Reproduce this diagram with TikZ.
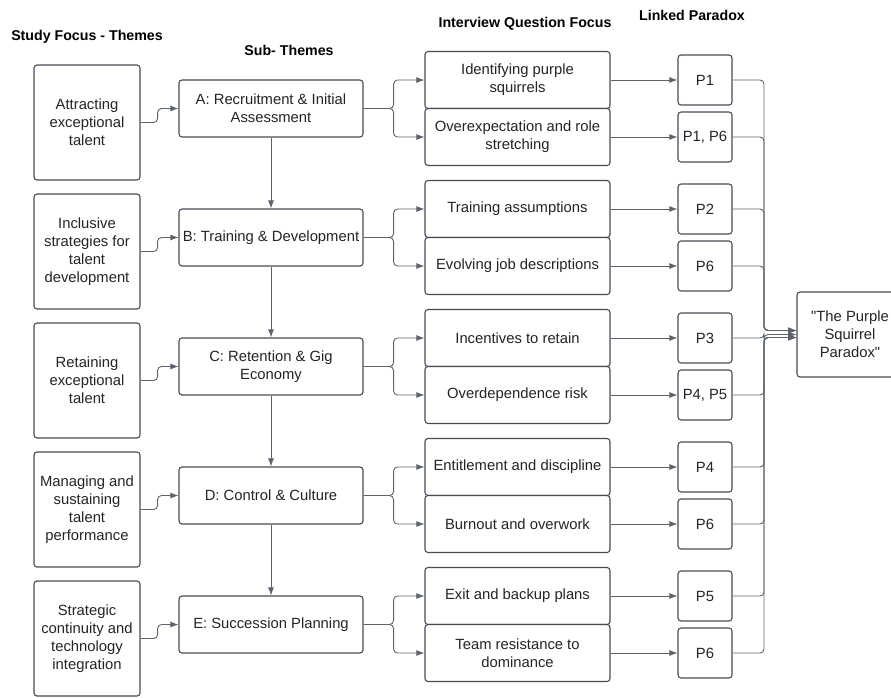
\documentclass[tikz,border=0pt]{standalone}
\usepackage{fontspec}
\setmainfont{Liberation Sans}[Ligatures=TeXOff]
\usetikzlibrary{positioning, calc, arrows.meta}
\definecolor{boxgray}{HTML}{474C54}
\definecolor{linkgray}{HTML}{5E636A}
\definecolor{textgray}{HTML}{222426}
\tikzset{ % box styles, one per column
  my box/.style={draw=boxgray,line width=1.1pt,rounded corners=3pt,fill=white,
    align=center,inner sep=2pt,text=textgray,font=\fontsize{14.8}{18}\selectfont},
  theme/.style={my box,minimum width=106pt,minimum height=115pt},
  subtheme/.style={my box,minimum width=184pt,minimum height=57pt},
  question/.style={my box,minimum width=185pt,minimum height=57pt},
  paradox/.style={my box,minimum width=54pt,minimum height=50pt},
  outcome/.style={my box,minimum width=106pt,minimum height=85pt},
  heading/.style={text=black,font=\bfseries\fontsize{14.2}{17}\selectfont},
  link/.style={draw=linkgray,line width=0.9pt,rounded corners=4pt,
    -{Latex[length=8pt,width=6pt]}}
}

\begin{document}
\begin{tikzpicture}[x=1pt,y=-1pt]
\path[use as bounding box, clip] (0,0) rectangle (891,697);

% headings
\node[heading] (h1) at (87,37)  {Study Focus - Themes};
\node[heading] (h2) at (289,50) {Sub- Themes};
\node[heading] (h3) at (525,24) {Interview Question Focus};
\node[heading] (h4) at (692,15) {Linked Paradox};

% study focus themes
\foreach\i/\txt in {1/{Attracting\\exceptional\\talent},
                    2/{Inclusive\\strategies for\\talent\\development},
                    3/{Retaining\\exceptional\\talent},
                    4/{Managing and\\sustaining\\talent\\performance},
                    5/{Strategic\\continuity and\\technology\\integration}}
  \node[theme] (t\i) at (87,-6.5+129*\i) {\txt};

% sub-themes
\foreach\i/\txt in {1/{A: Recruitment \& Initial\\Assessment},
                    2/{B: Training \& Development},
                    3/{C: Retention \& Gig\\Economy},
                    4/{D: Control \& Culture},
                    5/{E: Succession Planning}}
  \node[subtheme] (s\i) at (271,-20.5+129*\i) {\txt};

% interview question focus
\foreach\i/\txta/\txtb in {1/{Identifying purple\\squirrels}/{Overexpectation and role\\stretching},
                           2/{Training assumptions}/{Evolving job descriptions},
                           3/{Incentives to retain}/{Overdependence risk},
                           4/{Entitlement and discipline}/{Burnout and overwork},
                           5/{Exit and backup plans}/{Team resistance to\\dominance}}
{
  \node[question] (qa\i) at (517.5,-49+129*\i) {\txta};
  \node[question] (qb\i) at (517.5,8+129*\i)   {\txtb};
}

% linked paradoxes
\foreach\i/\txta/\txtb in {1/P1/{P1, P6},2/P2/P6,3/P3/{P4, P5},4/P4/P6,5/P5/P6}
{
  \node[paradox] (pa\i) at (705,-49+129*\i) {\txta};
  \node[paradox] (pb\i) at (705,8+129*\i)   {\txtb};
}

\node[outcome] (psp) at (850,334.5) {"The Purple\\Squirrel\\Paradox"};
\coordinate (bus) at (764,334.5);

% connections
\foreach\i in {1,...,5}
{
  \draw[link] (t\i.east) -- ++(17,0) |- (s\i.west);
  \draw[link] (s\i.east) -- ++(30,0) |- (qa\i.west);
  \draw[link] (s\i.east) -- ++(30,0) |- (qb\i.west);
  \draw[link] (qa\i.east) -- (pa\i.west);
  \draw[link] (qb\i.east) -- (pb\i.west);
}
\foreach\i/\j in {1/2,2/3,3/4,4/5}
  \draw[link] (s\i) -- (s\j);

% paradoxes into the bus
\foreach\p/\s in {pa1/4,pb1/4,pa2/4,pb2/4,pa3/0,pb3/-3,pa4/-3,pb4/-3,pa5/-3,pb5/-3}
  \draw[link] (\p.east) -- (\p.east -| bus) |- ([yshift=\s pt]psp.west);
\end{tikzpicture}
\end{document}
